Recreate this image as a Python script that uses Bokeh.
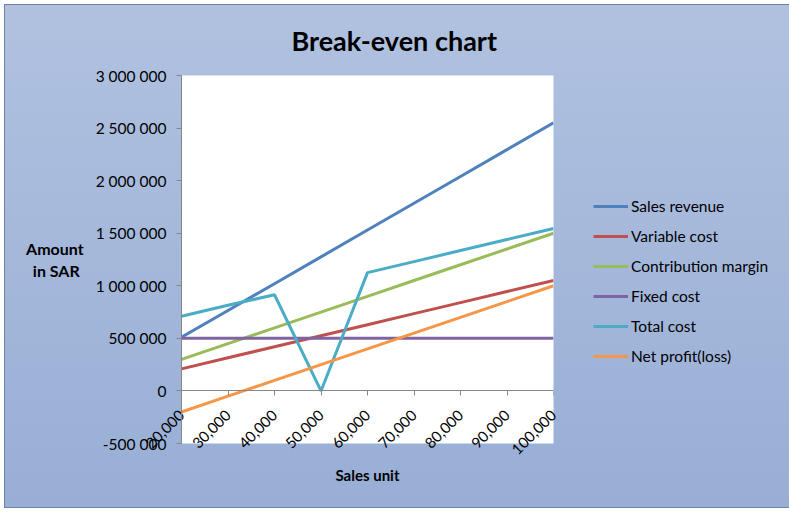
import math
from bokeh.plotting import figure
from bokeh.models import (Range1d, FixedTicker, Legend, LegendItem, LinearAxis)
from bokeh.embed import file_html
from bokeh.resources import INLINE

# ---- data ----
sales_units = [20000, 30000, 40000, 50000, 60000, 70000, 80000, 90000, 100000]
x_tick_labels = ["20,000", "30,000", "40,000", "50,000", "60,000",
                 "70,000", "80,000", "90,000", "100,000"]
sales_revenue = [510000, 765000, 1020000, 1275000, 1530000, 1785000, 2040000, 2295000, 2550000]
variable_cost = [210000, 315000, 420000, 525000, 630000, 735000, 840000, 945000, 1050000]
contribution_margin = [300000, 450000, 600000, 750000, 900000, 1050000, 1200000, 1350000, 1500000]
fixed_cost = [500000, 500000, 500000, 500000, 500000, 500000, 500000, 500000, 500000]
total_cost = [710000, 815000, 915000, 0, 1125000, 1230000, 1335000, 1440000, 1545000]
net_profit = [-200000, -50000, 100000, 250000, 400000, 550000, 700000, 850000, 1000000]

y_ticks = [-500000, 0, 500000, 1000000, 1500000, 2000000, 2500000, 3000000]
y_tick_labels = ["-500 000", "0", "500 000", "1 000 000", "1 500 000",
                 "2 000 000", "2 500 000", "3 000 000"]

series_names = ["Sales revenue", "Variable cost", "Contribution margin",
                "Fixed cost", "Total cost", "Net profit(loss)"]
series_values = [sales_revenue, variable_cost, contribution_margin,
                 fixed_cost, total_cost, net_profit]
series_colors = ["#4F81BD", "#C0504D", "#9BBB59", "#8064A2", "#4BACC6", "#F79646"]

FONT = "Lato"

# ---- layout ----
W, H = 789, 512
FL, FR, FT, FB = 181, 553, 75, 443  # frame in pixels

p = figure(frame_width=FR - FL, frame_height=FB - FT,
           output_backend="svg", toolbar_location=None,
           x_range=Range1d(20000, 100000), y_range=Range1d(-500000, 3000000),
           min_border_left=FL, min_border_right=W - FR,
           min_border_top=FT, min_border_bottom=H - FB,
           title="Break-even chart")
p.outline_line_color = None
p.background_fill_color = "white"
p.border_fill_alpha = 0
p.styles = {
    "background": "linear-gradient(to bottom, #b1c2e0, #98aed5)",
    "box-shadow": "inset 0 0 0 4px white, inset 0 0 0 5px #6d81a3",
}
p.xgrid.visible = False
p.ygrid.visible = False

# title
p.title.text_font = FONT
p.title.text_font_size = "27px"
p.title.text_font_style = "bold"
p.title.text_color = "#000000"
p.title.align = "left"
p.title.offset = 110
p.title.standoff = 38

# y axis
ya = p.yaxis[0]
ya.ticker = FixedTicker(ticks=y_ticks)
ya.major_label_overrides = {t: l for t, l in zip(y_ticks, y_tick_labels)}
ya.axis_line_color = "#868686"
ya.major_tick_line_color = "#868686"
ya.major_tick_out = 5
ya.major_tick_in = 0
ya.minor_tick_line_color = None
ya.major_label_standoff = 10
ya.major_label_text_font = FONT
ya.major_label_text_font_size = "15.5px"
ya.major_label_text_color = "#000000"
ya.axis_label = "Amount\nin SAR\u00a0"
ya.axis_label_orientation = "horizontal"
ya.axis_label_text_font = FONT
ya.axis_label_text_font_size = "16px"
ya.axis_label_text_font_style = "bold"
ya.axis_label_text_color = "#000000"
ya.axis_label_text_align = "center"
ya.axis_label_standoff = 9

# x axis: labels at the bottom
xa = p.xaxis[0]
xa.ticker = FixedTicker(ticks=sales_units)
xa.major_label_overrides = {t: l for t, l in zip(sales_units, x_tick_labels)}
xa.axis_line_color = None
xa.major_tick_line_color = None
xa.major_tick_out = 0
xa.major_tick_in = 0
xa.minor_tick_line_color = None
xa.major_label_orientation = math.pi / 4
xa.major_label_standoff = -31
xa.major_label_text_font = FONT
xa.major_label_text_font_size = "15px"
xa.major_label_text_color = "#000000"
xa.axis_label = "Sales unit"
xa.axis_label_text_font = FONT
xa.axis_label_text_font_size = "15px"
xa.axis_label_text_font_style = "bold"
xa.axis_label_text_color = "#000000"
xa.axis_label_standoff = 3

# x axis line crossing at 0 (ticks only, no labels)
xz = LinearAxis(fixed_location=0, ticker=FixedTicker(ticks=sales_units),
                axis_line_color="#868686", major_tick_line_color="#868686",
                major_tick_out=5, major_tick_in=0, minor_tick_line_color=None,
                major_label_overrides={t: "" for t in sales_units},
                major_label_standoff=0)
p.add_layout(xz, "below")

# lines
items = []
for name, vals, col in zip(series_names, series_values, series_colors):
    r = p.line(sales_units, vals, line_color=col, line_width=3)
    items.append(LegendItem(label=name, renderers=[r]))

legend = Legend(items=items, location=(40, 77))
legend.label_text_font = FONT
legend.label_text_font_size = "15.5px"
legend.label_text_color = "#000000"
legend.glyph_width = 35
legend.glyph_height = 20
legend.label_height = 20
legend.label_standoff = 3
legend.spacing = 10
legend.padding = 0
legend.margin = 0
legend.border_line_alpha = 0
legend.background_fill_alpha = 0
p.add_layout(legend, "right")

open("out.html", "w").write(file_html(p, INLINE))
